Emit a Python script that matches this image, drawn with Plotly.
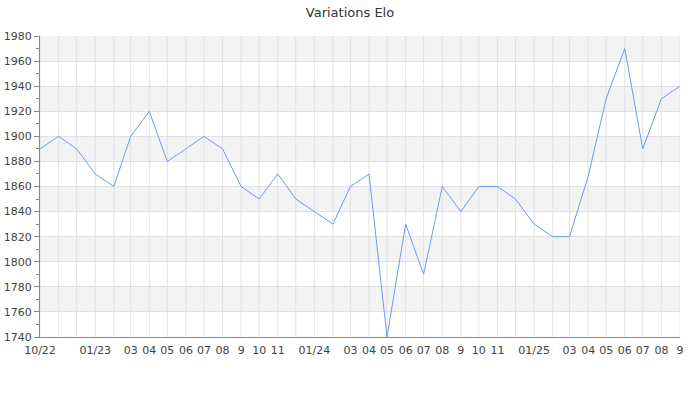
import plotly.graph_objects as go

months = ['2022-10-01', '2022-11-01', '2022-12-01', '2023-01-01', '2023-02-01', '2023-03-01',
          '2023-04-01', '2023-05-01', '2023-06-01', '2023-07-01', '2023-08-01', '2023-09-01',
          '2023-10-01', '2023-11-01', '2023-12-01', '2024-01-01', '2024-02-01', '2024-03-01',
          '2024-04-01', '2024-05-01', '2024-06-01', '2024-07-01', '2024-08-01', '2024-09-01',
          '2024-10-01', '2024-11-01', '2024-12-01', '2025-01-01', '2025-02-01', '2025-03-01',
          '2025-04-01', '2025-05-01', '2025-06-01', '2025-07-01', '2025-08-01', '2025-09-01']
elo = [1890, 1900, 1890, 1870, 1860, 1900,
       1920, 1880, 1890, 1900, 1890, 1860,
       1850, 1870, 1850, 1840, 1830, 1860,
       1870, 1740, 1830, 1790, 1860, 1840,
       1860, 1860, 1850, 1830, 1820, 1820,
       1868, 1930, 1970, 1890, 1930, 1940]

tick_vals = ['2022-10-01', '2023-01-01', '2023-03-01', '2023-04-01', '2023-05-01', '2023-06-01',
             '2023-07-01', '2023-08-01', '2023-09-01', '2023-10-01', '2023-11-01', '2024-01-01',
             '2024-03-01', '2024-04-01', '2024-05-01', '2024-06-01', '2024-07-01', '2024-08-01',
             '2024-09-01', '2024-10-01', '2024-11-01', '2025-01-01', '2025-03-01', '2025-04-01',
             '2025-05-01', '2025-06-01', '2025-07-01', '2025-08-01', '2025-09-01']
tick_text = ['10/22', '01/23', '03', '04', '05', '06', '07', '08', '9', '10', '11', '01/24',
             '03', '04', '05', '06', '07', '08', '9', '10', '11', '01/25',
             '03', '04', '05', '06', '07', '08', '9']

y_min, y_max, y_step = 1740, 1980, 20

fig = go.Figure()

# alternating grey bands
shapes = []
for i, lo in enumerate(range(y_min, y_max, y_step)):
    if i % 2 == 1:
        shapes.append(dict(type='rect', xref='paper', yref='y', x0=0, x1=1, y0=lo, y1=lo + y_step,
                           fillcolor='#f3f3f3', line_width=0, layer='below'))

# vertical grid for every month (labels skip some)
for m in months:
    shapes.append(dict(type='line', xref='x', yref='paper', x0=m, x1=m, y0=0, y1=1,
                       line=dict(color='#e2e2e2', width=1), layer='below'))

fig.add_trace(go.Scatter(x=months, y=elo, mode='lines', name='Elo',
                         line=dict(color='#6a9bef', width=1)))

fig.update_layout(
    width=700, height=400,
    title=dict(text='Variations Elo', x=0.5, xanchor='center', y=0.98, yanchor='top',
               font=dict(family='DejaVu Sans', size=13, color='#333')),
    font=dict(family='DejaVu Sans', size=11, color='#444'),
    plot_bgcolor='white', paper_bgcolor='white',
    margin=dict(l=40, r=20, t=36, b=63),
    showlegend=False,
    shapes=shapes,
    xaxis=dict(range=[months[0], months[-1]], tickvals=tick_vals, ticktext=tick_text,
               showgrid=False, showline=True, linecolor='#888', linewidth=1, automargin=False,
               ticks='outside', ticklen=3, tickcolor='rgba(0,0,0,0)',
               tickfont=dict(size=11, color='#444'), zeroline=False),
    yaxis=dict(range=[y_min, y_max], dtick=y_step, tick0=y_min, automargin=False,
               showgrid=True, gridcolor='#e2e2e2', gridwidth=1,
               showline=True, linecolor='#888', linewidth=1,
               ticks='outside', ticklen=5, tickcolor='#888',
               minor=dict(dtick=10, ticks='outside', ticklen=3, tickcolor='#888', showgrid=False),
               tickfont=dict(size=11, color='#444'), zeroline=False),
)

fig.write_html("out.html", config={'displayModeBar': False},
               post_script="document.body.style.margin='0';")
